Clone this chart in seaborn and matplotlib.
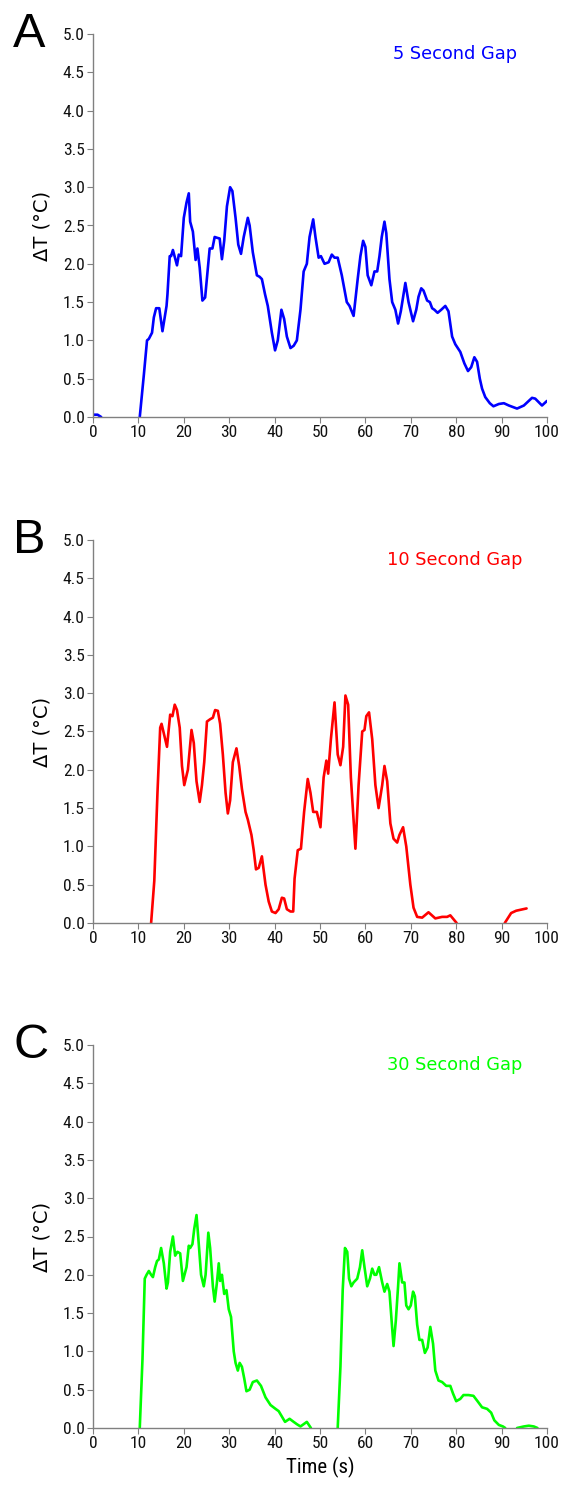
import numpy as np
import pandas as pd
import matplotlib
matplotlib.use("Agg")
import matplotlib.pyplot as plt
import seaborn as sns
from matplotlib import font_manager

# ---------------- data ----------------
nan = np.nan
t_a = [0, 1, 1.8, nan,
       10.3, 11.2, 11.9, 12.3, 13.0, 13.4, 13.9, 14.6, 15.3, 16.2, 16.4, 16.9, 17.2, 17.6, 18.5, 18.9,
       19.4, 20.0, 20.6, 21.1, 21.4, 22.0, 22.6, 23.0, 23.5, 24.1, 24.7, 25.7, 26.3, 26.8, 27.3, 27.9,
       28.4, 28.9, 29.5, 30.2, 30.7, 31.4, 32.0, 32.6, 33.2, 34.1, 34.5, 35.2, 36.1, 36.7, 37.2, 37.9,
       38.5, 39.4, 40.1, 40.7, 41.5, 42.1, 42.7, 43.5, 44.2, 44.9, 45.7, 46.4, 47.1, 47.7, 48.5, 49.0,
       49.7, 50.2, 51.0, 51.9, 52.6, 53.2, 53.9, 54.8, 55.9, 56.5, 57.4, 58.3, 58.9, 59.5, 60.0, 60.5,
       61.3, 62.0, 62.6, 63.1, 63.6, 64.2, 64.6, 65.3, 65.9, 66.6, 67.2, 67.8, 68.8, 69.5, 70.5, 71.2,
       71.7, 72.3, 72.8, 73.6, 74.2, 74.7, 75.2, 75.9, 76.7, 77.6, 78.3, 79.1, 79.8, 80.9, 81.8, 82.6,
       83.3, 84.0, 84.6, 85.2, 85.7, 86.4, 87.4, 88.2, 89.4, 90.5, 91.6, 93.4, 94.9, 96.7, 97.4, 98.9, 100]
v_a = [0.03, 0.03, 0.0, nan,
       0.0, 0.55, 1.0, 1.02, 1.1, 1.3, 1.42, 1.42, 1.12, 1.45, 1.6, 2.1, 2.1, 2.18, 1.98, 2.12,
       2.1, 2.6, 2.8, 2.92, 2.55, 2.42, 2.05, 2.2, 1.95, 1.52, 1.56, 2.2, 2.2, 2.35, 2.34, 2.33,
       2.06, 2.3, 2.75, 3.0, 2.95, 2.6, 2.25, 2.13, 2.35, 2.6, 2.5, 2.15, 1.85, 1.83, 1.8, 1.6,
       1.45, 1.1, 0.87, 1.0, 1.4, 1.28, 1.05, 0.9, 0.93, 1.0, 1.4, 1.9, 2.0, 2.35, 2.58, 2.35,
       2.08, 2.1, 2.0, 2.02, 2.12, 2.08, 2.08, 1.85, 1.5, 1.45, 1.32, 1.8, 2.1, 2.3, 2.22, 1.85,
       1.72, 1.9, 1.9, 2.1, 2.35, 2.55, 2.4, 1.8, 1.5, 1.4, 1.22, 1.38, 1.75, 1.5, 1.25, 1.4,
       1.57, 1.68, 1.65, 1.52, 1.5, 1.42, 1.4, 1.36, 1.4, 1.45, 1.38, 1.05, 0.95, 0.85, 0.7, 0.6,
       0.65, 0.78, 0.72, 0.5, 0.37, 0.26, 0.18, 0.14, 0.17, 0.18, 0.15, 0.11, 0.15, 0.25, 0.24, 0.15, 0.21]

t_b = [12.8, 13.5, 14.2, 14.8, 15.1, 15.7, 16.3, 17.0, 17.5, 18.0, 18.5, 19.1, 19.6, 20.1, 20.9,
       21.7, 22.2, 22.8, 23.5, 24.0, 24.5, 25.1, 25.8, 26.4, 26.9, 27.5, 28.0, 28.6, 29.2, 29.7,
       30.2, 30.8, 31.6, 32.2, 32.8, 33.6, 34.1, 34.9, 35.4, 35.9, 36.5, 37.2, 38.0, 38.7, 39.4,
       40.2, 40.9, 41.6, 42.1, 42.7, 43.5, 44.1, 44.4, 45.1, 45.8, 46.5, 47.3, 47.9, 48.5, 49.3,
       50.1, 50.8, 51.4, 51.8, 52.4, 53.2, 53.9, 54.5, 55.1, 55.6, 56.2, 56.8, 57.8, 58.5, 59.3,
       59.8, 60.2, 60.8, 61.5, 62.2, 62.9, 63.7, 64.2, 64.8, 65.5, 66.2, 67.0, 67.5, 68.3, 69.0,
       69.9, 70.6, 71.4, 72.5, 73.9, 75.4, 76.9, 78.0, 78.7, 80.1, nan,
       90.7, 92.1, 93.2, 95.5]
v_b = [0.0, 0.55, 1.7, 2.55, 2.6, 2.45, 2.3, 2.72, 2.7, 2.85, 2.78, 2.55, 2.05, 1.8, 2.0,
       2.52, 2.35, 1.85, 1.58, 1.8, 2.1, 2.63, 2.66, 2.68, 2.78, 2.77, 2.6, 2.2, 1.7, 1.43,
       1.6, 2.1, 2.28, 2.05, 1.75, 1.45, 1.35, 1.15, 0.95, 0.7, 0.72, 0.87, 0.5, 0.28, 0.15,
       0.13, 0.18, 0.33, 0.32, 0.18, 0.15, 0.15, 0.58, 0.95, 0.97, 1.45, 1.88, 1.7, 1.45, 1.45,
       1.25, 1.9, 2.12, 1.95, 2.4, 2.88, 2.2, 2.06, 2.3, 2.97, 2.85, 1.9, 0.97, 1.8, 2.5,
       2.52, 2.7, 2.75, 2.4, 1.8, 1.5, 1.8, 2.05, 1.85, 1.3, 1.1, 1.05, 1.15, 1.25, 1.0,
       0.5, 0.2, 0.08, 0.07, 0.14, 0.06, 0.08, 0.08, 0.1, 0.0, nan,
       0.0, 0.13, 0.16, 0.19]

t_c = [10.3, 10.9, 11.4, 11.8, 12.3, 12.8, 13.2, 13.7, 14.1, 14.5, 15.0, 15.6, 16.2, 16.5, 17.0,
       17.6, 18.1, 18.6, 19.2, 19.8, 20.6, 21.1, 21.4, 21.9, 22.3, 22.8, 23.3, 23.8, 24.4, 24.8,
       25.4, 25.8, 26.4, 26.8, 27.3, 27.7, 28.0, 28.4, 28.9, 29.4, 29.9, 30.4, 31.0, 31.4, 31.9,
       32.3, 32.8, 33.3, 33.8, 34.5, 35.2, 36.1, 37.0, 38.0, 39.1, 40.2, 40.9, 41.6, 42.3, 43.3,
       44.2, 44.9, 45.7, 46.4, 47.1, 48.0, nan,
       53.9, 54.5, 55.0, 55.5, 56.0, 56.4, 56.9, 57.4, 58.2, 58.8, 59.3, 59.8, 60.4, 61.0, 61.5,
       62.0, 62.4, 63.0, 63.7, 64.2, 64.8, 65.3, 65.9, 66.2, 66.7, 67.2, 67.5, 68.1, 68.6, 69.0,
       69.5, 70.0, 70.5, 70.9, 71.4, 71.9, 72.5, 73.1, 73.7, 74.3, 74.9, 75.4, 76.1, 76.9, 77.8,
       78.7, 79.3, 80.0, 80.9, 81.6, 82.7, 83.8, 84.7, 85.7, 86.8, 87.7, 88.4, 89.4, 90.3, 90.8, nan,
       93.4, 94.9, 96.0, 97.1, 97.9]
v_c = [0.0, 0.9, 1.95, 2.0, 2.05, 2.0, 1.97, 2.1, 2.18, 2.2, 2.35, 2.15, 1.82, 1.9, 2.3,
       2.5, 2.25, 2.3, 2.28, 1.92, 2.1, 2.38, 2.35, 2.4, 2.6, 2.78, 2.4, 2.0, 1.85, 2.0,
       2.55, 2.35, 1.85, 1.65, 1.9, 2.15, 1.92, 2.0, 1.75, 1.8, 1.55, 1.45, 1.0, 0.85, 0.75,
       0.85, 0.8, 0.65, 0.48, 0.5, 0.6, 0.62, 0.55, 0.4, 0.3, 0.25, 0.22, 0.15, 0.08, 0.12,
       0.08, 0.05, 0.02, 0.05, 0.08, 0.0, nan,
       0.0, 0.8, 1.8, 2.35, 2.3, 1.95, 1.85, 1.9, 1.95, 2.1, 2.32, 2.1, 1.85, 1.95, 2.08,
       2.0, 2.0, 2.1, 1.9, 1.78, 1.88, 1.78, 1.3, 1.07, 1.4, 1.85, 2.15, 1.9, 1.9, 1.6,
       1.55, 1.6, 1.78, 1.72, 1.35, 1.15, 1.15, 0.98, 1.05, 1.32, 1.1, 0.75, 0.62, 0.6, 0.55,
       0.55, 0.45, 0.35, 0.38, 0.43, 0.43, 0.42, 0.35, 0.27, 0.25, 0.2, 0.1, 0.04, 0.02, 0.0, nan,
       0.0, 0.02, 0.03, 0.02, 0.0]

panel_letters = ["A", "B", "C"]
panel_titles = ["5 Second Gap", "10 Second Gap", "30 Second Gap"]
panel_colors = ["#0000ff", "#ff0000", "#00ff00"]
x_ticks = list(range(0, 101, 10))
y_ticks = [0.0, 0.5, 1.0, 1.5, 2.0, 2.5, 3.0, 3.5, 4.0, 4.5, 5.0]
y_label = "ΔT (°C)"
x_label = "Time (s)"


def to_frame(t, v):
    t = np.asarray(t, float)
    v = np.asarray(v, float)
    seg = np.cumsum(np.isnan(t))
    df = pd.DataFrame({"t": t, "v": v, "seg": seg})
    return df.dropna()


series = [to_frame(t_a, v_a), to_frame(t_b, v_b), to_frame(t_c, v_c)]

# ---------------- style ----------------
sns.set_style("ticks")
plt.rcParams["font.family"] = ["DejaVu Sans"]
plt.rcParams["text.color"] = "black"
plt.rcParams["axes.labelcolor"] = "black"

names = {f.name for f in font_manager.fontManager.ttflist}
if "DejaVu Sans Condensed" in names:
    narrow = ["DejaVu Sans Condensed"]
elif "Liberation Sans Narrow" in names:
    narrow = ["Liberation Sans Narrow"]
elif "Roboto Condensed" in names:
    narrow = ["Roboto Condensed"]
else:
    narrow = ["DejaVu Sans"]
tick_fp = font_manager.FontProperties(family=narrow + ["DejaVu Sans"], stretch="condensed", size=12.5)
label_fp = font_manager.FontProperties(family=narrow + ["DejaVu Sans"], stretch="condensed", size=15)

W, H = 564, 1487
fig = plt.figure(figsize=(W / 100, H / 100), dpi=100)

left, right = 93 / W, 547 / W
tops = [34, 540, 1045]
ax_h = 383

grey = "#808080"

for i, (df, letter, title, col) in enumerate(zip(series, panel_letters, panel_titles, panel_colors)):
    top = tops[i]
    ax = fig.add_axes([left, 1 - (top + ax_h) / H, right - left, ax_h / H])
    sns.lineplot(data=df, x="t", y="v", units="seg", estimator=None,
                 color=col, linewidth=1.9, ax=ax, legend=False)
    ax.set_xlim(0, 100)
    ax.set_ylim(0, 5.0)
    ax.set_xticks(x_ticks)
    ax.set_yticks(y_ticks)
    ax.set_xticklabels([str(x) for x in x_ticks], fontproperties=tick_fp, color="#111111")
    ax.set_yticklabels([f"{y:.1f}" for y in y_ticks], fontproperties=tick_fp, color="#111111")
    for s in ["top", "right"]:
        ax.spines[s].set_visible(False)
    for s in ["left", "bottom"]:
        ax.spines[s].set_color(grey)
        ax.spines[s].set_linewidth(1.0)
    ax.tick_params(axis="both", direction="out", length=4, width=0.8, color=grey, pad=2)
    ax.set_ylabel(y_label, fontsize=14, labelpad=8)
    if i == 2:
        ax.set_xlabel(x_label, fontproperties=label_fp, labelpad=4)
    else:
        ax.set_xlabel("")
    ax.text(0.797, 0.947, title, transform=ax.transAxes, color=col,
            fontsize=12.8, ha="center", va="center")
    fig.text(13 / W, 1 - (top - 22) / H, letter, fontsize=35, color="black",
             family=["Liberation Sans", "DejaVu Sans"], ha="left", va="top")

fig.savefig("out.png", dpi=100)
